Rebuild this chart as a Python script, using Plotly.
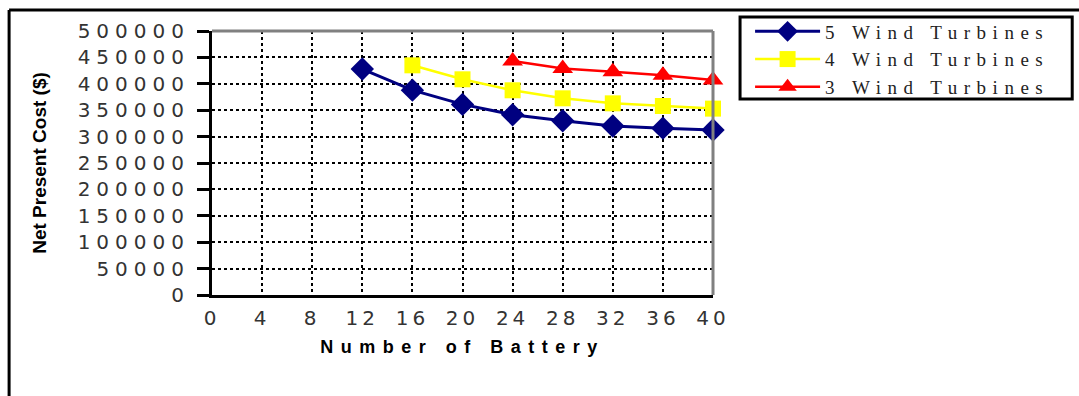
import plotly.graph_objects as go

# Net present cost versus battery count for three wind-turbine configurations
batteries_5wt = [12, 16, 20, 24, 28, 32, 36, 40]
cost_5wt = [428000, 388000, 361000, 341500, 330000, 320000, 316000, 312500]

batteries_4wt = [16, 20, 24, 28, 32, 36, 40]
cost_4wt = [435000, 408500, 387700, 372500, 363000, 358000, 353000]

batteries_3wt = [24, 28, 32, 36, 40]
cost_3wt = [443000, 429000, 423000, 416000, 407000]

x_ticks = list(range(0, 41, 4))
y_ticks = list(range(0, 500001, 50000))
y_tick_labels = [str(v) for v in y_ticks]

series = [
    ("5 Wind Turbines", batteries_5wt, cost_5wt, "#000080", "diamond", 18, 3),
    ("4 Wind Turbines", batteries_4wt, cost_4wt, "#FFFF00", "square", 16, 2.5),
    ("3 Wind Turbines", batteries_3wt, cost_3wt, "#FF0000", "triangle-up", 18, 2.5),
]

fig = go.Figure()
for name, xs, ys, color, symbol, size, width in series:
    fig.add_trace(go.Scatter(
        x=xs, y=ys, name=name, mode="lines+markers",
        line=dict(color=color, width=width),
        marker=dict(symbol=symbol, size=size, color=color),
        cliponaxis=False,
    ))

tick_font = dict(family="DejaVu Sans", size=20, color="#333333")

fig.update_layout(
    width=1079, height=396,
    margin=dict(l=212, r=366, t=31, b=101),
    paper_bgcolor="white", plot_bgcolor="white",
    showlegend=True,
    legend=dict(
        x=1.074, y=1.07, xanchor="left", yanchor="top",
        bgcolor="rgba(0,0,0,0)", borderwidth=0,
        itemwidth=65,
        font=dict(family="Liberation Serif", size=19, color="#222222"),
    ),
    xaxis=dict(
        range=[0, 40], tickmode="array", tickvals=x_ticks,
        showgrid=True, gridcolor="black", griddash="dot", gridwidth=2,
        showline=True, linecolor="black", linewidth=3,
        zeroline=False, ticks="", ticklabelstandoff=3,
        tickfont=tick_font,
        title=dict(text="Number of Battery", standoff=12,
                   font=dict(family="Liberation Sans", size=18, color="black", weight="bold")),
    ),
    yaxis=dict(
        range=[0, 500000], tickmode="array", tickvals=y_ticks, ticktext=y_tick_labels,
        showgrid=True, gridcolor="black", griddash="dot", gridwidth=2,
        showline=True, linecolor="black", linewidth=3,
        zeroline=False, ticks="outside", ticklen=12, tickwidth=3, tickcolor="black",
        ticklabelstandoff=3,
        tickfont=tick_font,
        title=dict(text="Net Present Cost ($)", standoff=62,
                   font=dict(family="Liberation Sans", size=19, color="black", weight="bold")),
    ),
    shapes=[
        # gray frame on top and right of the plotting area
        dict(type="line", xref="paper", yref="paper", x0=0, x1=1, y0=1, y1=1,
             line=dict(color="#808080", width=3), layer="above"),
        dict(type="line", xref="paper", yref="paper", x0=1, x1=1, y0=0, y1=1,
             line=dict(color="#808080", width=3), layer="above"),
        # legend box
        dict(type="rect", xref="paper", yref="paper",
             x0=1.054, x1=1.717, y0=0.742, y1=1.053,
             line=dict(color="black", width=3), fillcolor="rgba(0,0,0,0)"),
        # outer chart frame (top and left edges)
        dict(type="line", xref="paper", yref="paper", x0=-0.405, x1=1.75, y0=1.0795, y1=1.0795,
             line=dict(color="black", width=3)),
        dict(type="line", xref="paper", yref="paper", x0=-0.405, x1=-0.405, y0=-0.40, y1=1.0795,
             line=dict(color="black", width=3)),
    ],
)

# widen the lettering of the labels
spacing_js = """
var gd = document.getElementById('{plot_id}');
function spread(sel, px) {
  gd.querySelectorAll(sel).forEach(function(t){ t.style.letterSpacing = px; });
}
spread('.ytick text', '6px');
spread('.xtick text', '4px');
spread('.legendtext', '6.5px');
spread('.g-xtitle text', '7.5px');
gd.querySelectorAll('.legend [clip-path], .legend .scrollbox').forEach(function(el){
  el.removeAttribute('clip-path');
});
"""

fig.write_html("out.html", post_script=spacing_js)
